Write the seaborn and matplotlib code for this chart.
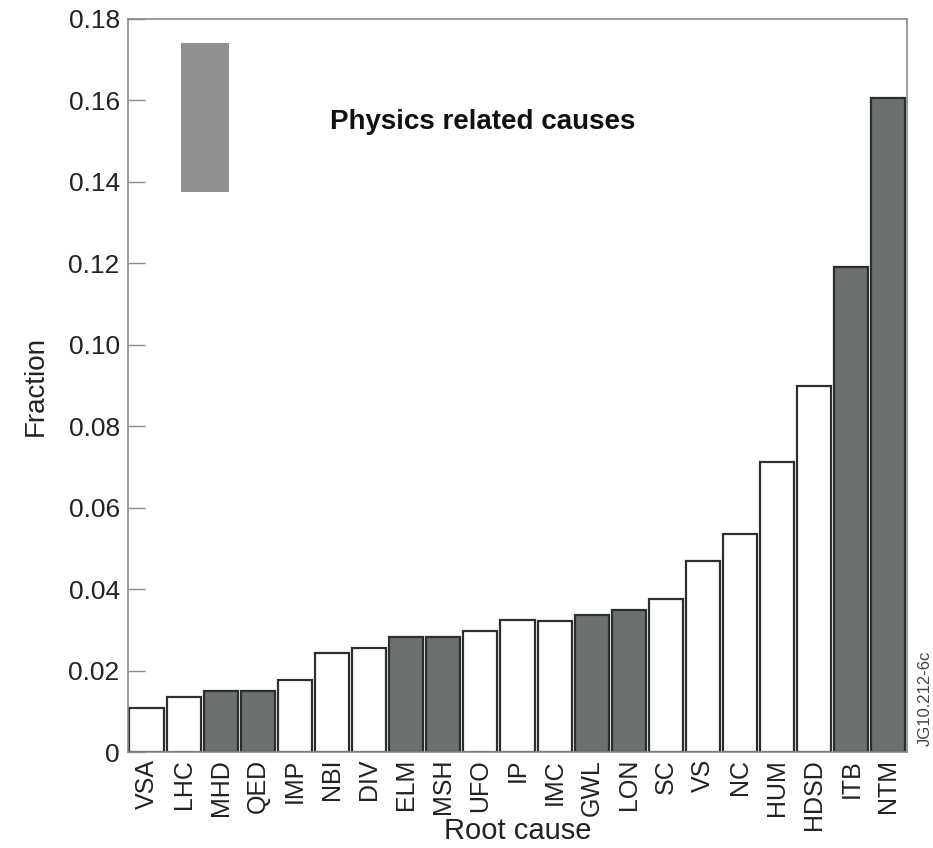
import matplotlib
matplotlib.use("Agg")
import matplotlib.pyplot as plt
import seaborn as sns
from matplotlib.patches import Rectangle
from matplotlib.ticker import FixedLocator, FuncFormatter

causes = ["VSA", "LHC", "MHD", "QED", "IMP", "NBI", "DIV", "ELM", "MSH", "UFO",
          "IP", "IMC", "GWL", "LON", "SC", "VS", "NC", "HUM", "HDSD", "ITB", "NTM"]
fractions = [0.0108, 0.0135, 0.0149, 0.0149, 0.0176, 0.0242, 0.0255, 0.0282, 0.0282,
             0.0296, 0.0323, 0.0322, 0.0336, 0.0349, 0.0376, 0.0468, 0.0536, 0.0711,
             0.0898, 0.1192, 0.1606]
physics = ["MHD", "QED", "ELM", "MSH", "GWL", "LON", "ITB", "NTM"]
yticks = [0, 0.02, 0.04, 0.06, 0.08, 0.10, 0.12, 0.14, 0.16, 0.18]

dark = "#6c716d"
light = "#ffffff"
palette = {c: (dark if c in physics else light) for c in causes}

sns.set_theme(style="white")
plt.rcParams["font.family"] = ["Liberation Sans", "DejaVu Sans"]

fig = plt.figure(figsize=(9.33, 8.48), dpi=100)
ax = fig.add_axes([0.1372, 0.1132, 0.8349, 0.8644])

sns.barplot(x=causes, y=fractions, hue=causes, palette=palette, legend=False,
            width=0.92, edgecolor="#2b2f2f", linewidth=1.6, ax=ax, saturation=1)

ax.set_xlim(-0.5, len(causes) - 0.5)
ax.set_ylim(0, 0.18)
ax.yaxis.set_major_locator(FixedLocator(yticks))
ax.yaxis.set_major_formatter(FuncFormatter(lambda v, p: "0" if abs(v) < 1e-9 else f"{v:.2f}"))

for s in ax.spines.values():
    s.set_visible(True)
    s.set_color("#8a8a8a")
    s.set_linewidth(1.2)

ax.tick_params(axis="y", direction="in", length=12, width=1, color="#8a8a8a",
               labelsize=19, labelcolor="#222222", pad=6, left=True)
ax.tick_params(axis="x", length=0, labelsize=18, labelcolor="#222222", pad=5,
               labelrotation=90)

ax.set_ylabel("Fraction", fontsize=20, color="#222222", labelpad=14)
ax.set_xlabel("Root cause", fontsize=21, color="#222222")
ax.xaxis.label.set_va("baseline")
ax.xaxis.set_label_coords(0.5, -0.119)

ax.add_patch(Rectangle((0.068, 0.764), 0.0616, 0.203, transform=ax.transAxes,
                       facecolor="#8f8f8f", edgecolor="none", zorder=3))
ax.text(0.259, 0.859, "Physics related causes", transform=ax.transAxes,
        fontsize=20, fontweight="bold", color="#111111", ha="left", va="center")

fig.text(0.9995, 0.176, "JG10.212-6c", rotation=90, fontsize=12, color="#444444",
         ha="right", va="center")

fig.savefig("out.png", dpi=100)
